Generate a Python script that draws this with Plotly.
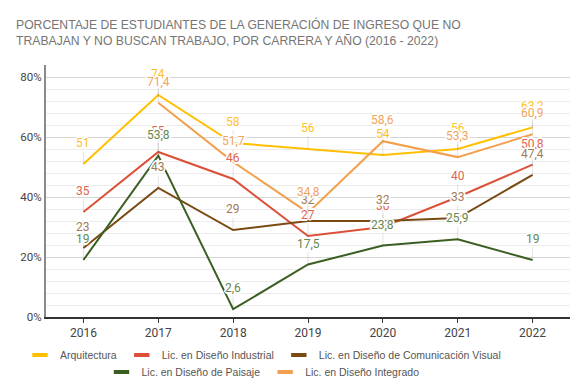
import plotly.graph_objects as go

years = [2016, 2017, 2018, 2019, 2020, 2021, 2022]
series_names = [
    "Arquitectura",
    "Lic. en Diseño Industrial",
    "Lic. en Diseño de Comunicación Visual",
    "Lic. en Diseño de Paisaje",
    "Lic. en Diseño Integrado",
]
arquitectura = [51, 74, 58, 56, 54, 56, 63.2]
industrial = [35, 55, 46, 27, 30, 40, 50.8]
comunicacion = [23, 43, 29, 32, 32, 33, 47.4]
paisaje = [19, 53.8, 2.6, 17.5, 23.8, 25.9, 19]
integrado = [None, 71.4, 51.7, 34.8, 58.6, 53.3, 60.9]
series_values = [arquitectura, industrial, comunicacion, paisaje, integrado]

line_colors = ["#FFC000", "#DC5038", "#7A4A12", "#3B5F22", "#F2A04E"]
label_colors = ["#FFC12A", "#E0654F", "#A27B55", "#66864F", "#F0A45C"]
y_ticks = [0, 20, 40, 60, 80]
y_tick_text = ["0%", "20%", "40%", "60%", "80%"]

title_text = ("PORCENTAJE DE ESTUDIANTES DE LA GENERACIÓN DE INGRESO QUE NO<br>"
              "TRABAJAN Y NO BUSCAN TRABAJO, POR CARRERA Y AÑO (2016 - 2022)")


def fmt(v):
    if float(v).is_integer():
        return str(int(v))
    return str(v).replace(".", ",")


fig = go.Figure()

for name, vals, lc in zip(series_names, series_values, line_colors):
    fig.add_trace(go.Scatter(
        x=years, y=vals, mode="lines", name=name,
        line=dict(color=lc, width=2), showlegend=False, hoverinfo="skip",
    ))

# legend entries (short thick bar symbol)
for i, (name, lc) in enumerate(zip(series_names, line_colors)):
    fig.add_trace(go.Scatter(
        x=[None], y=[None], mode="markers", name=name,
        marker=dict(symbol="line-ew", size=11, line=dict(width=4, color=lc)),
        legend="legend" if i < 3 else "legend2",
    ))

halo = ("-1px -1px 0 #fff, 1px -1px 0 #fff, -1px 1px 0 #fff, 1px 1px 0 #fff, "
        "0 -2px 0 #fff, 0 2px 0 #fff, -2px 0 0 #fff, 2px 0 0 #fff")
annotations = []
for vals, tc in zip(series_values, label_colors):
    for x, v in zip(years, vals):
        if v is None:
            continue
        annotations.append(dict(
            x=x, y=v, xref="x", yref="y", text=fmt(v),
            showarrow=True, arrowhead=0, arrowwidth=1,
            arrowcolor="rgba(0,0,0,0.10)", ax=0, ay=-21, standoff=0,
            font=dict(family="Roboto", size=12, color=tc, shadow=halo),
        ))

legend_font = dict(family="Liberation Sans, Arial", size=10.5, color="#555555")

fig.update_layout(
    width=584, height=391,
    margin=dict(l=46, r=14, t=65, b=74, autoexpand=False),
    paper_bgcolor="white", plot_bgcolor="white",
    title=dict(
        text=title_text, x=16 / 584, xref="container", xanchor="left",
        y=1 - 29 / 391, yref="container", yanchor="top",
        font=dict(family="Liberation Sans, Arial", size=12.2, color="#757575"),
    ),
    xaxis=dict(
        range=[2015.5, 2022.5], tickmode="array", tickvals=years,
        ticktext=[str(y) for y in years],
        showgrid=False, zeroline=False,
        showline=True, linecolor="#333333", linewidth=1.5,
        ticks="outside", ticklen=4, tickcolor="#333333", tickwidth=1,
        tickfont=dict(family="Roboto", size=12, color="#444444"),
        automargin=False,
    ),
    yaxis=dict(
        range=[0, 84], tickmode="array", tickvals=y_ticks, ticktext=y_tick_text,
        showgrid=True, gridcolor="#d6d6d6", gridwidth=1,
        minor=dict(dtick=4, tick0=0, showgrid=True, gridcolor="#ececec", gridwidth=1),
        zeroline=False, showline=True, linecolor="#8a8a8a", linewidth=2,
        ticks="", tickfont=dict(family="Roboto", size=11.5, color="#444444"),
        automargin=False,
    ),
    legend=dict(
        orientation="h", xref="container", yref="container",
        x=263 / 584, xanchor="center", y=36 / 391, yanchor="middle",
        font=legend_font, itemsizing="trace", bgcolor="rgba(0,0,0,0)",
    ),
    legend2=dict(
        orientation="h", xref="container", yref="container",
        x=263 / 584, xanchor="center", y=19 / 391, yanchor="middle",
        font=legend_font, itemsizing="trace", bgcolor="rgba(0,0,0,0)",
    ),
    annotations=annotations,
    showlegend=True,
)

fig.write_html("out.html", config={"displayModeBar": False},
               post_script="document.body.style.margin='0';")
